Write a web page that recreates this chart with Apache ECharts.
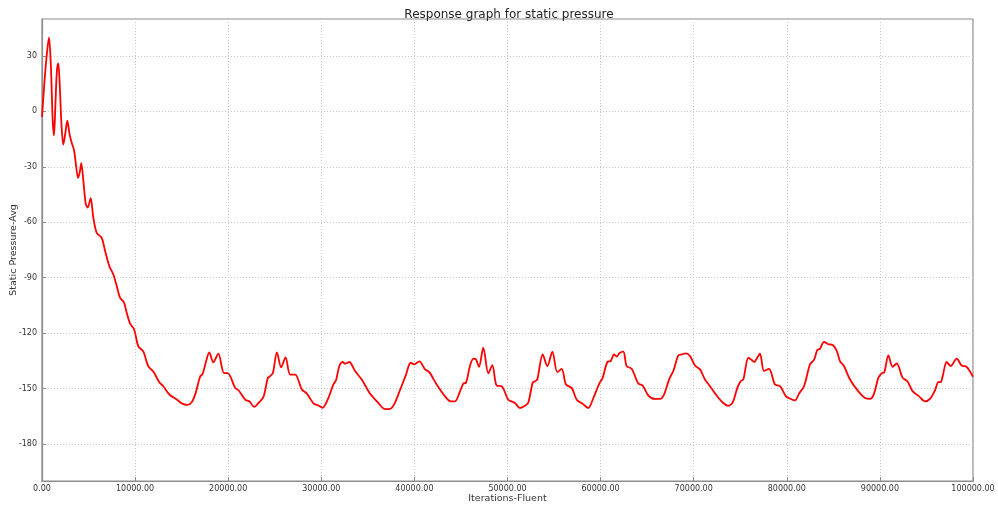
<!DOCTYPE html>
<html>
<head>
<meta charset="utf-8">
<title>Response graph for static pressure</title>
<script src="https://cdn.jsdelivr.net/npm/echarts@6/dist/echarts.min.js"></script>
<style>
  html, body { margin: 0; padding: 0; background: #fff; }
  #chart { width: 998px; height: 506px; }
</style>
</head>
<body>
<div id="chart"></div>
<script>
// Iteration counts of the solver run
const iterations = [
  0, 250, 500, 750, 950, 1150, 1290, 1450, 1600, 1750, 1900, 2100, 2290, 2500, 2720, 2950,
  3190, 3440, 3650, 3870, 4050, 4220, 4450, 4700, 4910, 5230, 5500, 5875, 6410, 6800, 7230,
  7660, 8000, 8380, 8810, 9100, 9450, 9900, 10350, 10880, 11420, 11960, 12600, 13030, 13680,
  14470, 15000, 15610, 16080, 16510, 16970, 17260, 17620, 17970, 18400, 18940, 19550, 19940,
  20750, 21110, 21820, 22290, 22790, 23260, 23790, 24260, 24510, 24800, 25230, 25690, 26160,
  26660, 27190, 27910, 28450, 29160, 29700, 30130, 30760, 31290, 31580, 31940, 32300, 32550,
  33010, 33620, 34340, 35230, 36130, 36840, 37310, 37810, 38450, 39100, 39600, 39990, 40530,
  41140, 41600, 42390, 43290, 43900, 44360, 44830, 45260, 45540, 45970, 46330, 46620, 46940,
  47400, 47940, 48370, 48840, 49370, 50090, 50800, 51340, 51880, 52240, 52700, 52950, 53200,
  53780, 54280, 54820, 55350, 55820, 56280, 56890, 57430, 58070, 58680, 59220, 59860, 60220,
  60720, 61080, 61440, 61730, 62010, 62440, 62800, 63340, 64050, 64520, 65130, 65840, 66380,
  66810, 67380, 67810, 68350, 68710, 69170, 69600, 70140, 70680, 71210, 71750, 72470, 73110,
  73720, 74190, 74690, 75040, 75330, 75870, 76230, 76510, 76760, 77120, 77550, 78090, 78730,
  79270, 79910, 80420, 80880, 81350, 81850, 82490, 82920, 83280, 83570, 84000, 84460, 84930,
  85360, 85710, 86140, 86790, 87680, 88400, 88940, 89370, 89830, 90190, 90480, 90910, 91370,
  91800, 92450, 92950, 93520, 94130, 94840, 95380, 95920, 96280, 96530, 96740, 97170, 97600,
  98250, 98780, 99320, 100000
];

// Area-averaged static pressure at each iteration
const pressure = [
  -3, 15, 30, 40, 25, -5, -13, 5, 22, 26, 15, -8, -18, -12, -5, -12,
  -17, -21, -29, -36, -33, -28, -38, -50, -52, -47, -57, -65.7, -68.4, -76, -83.7,
  -88.2, -94, -100.8, -103.5, -109, -114.7, -118, -127.2, -129.9, -138, -140.7, -146.6, -148.7, -153.2,
  -155.9, -158, -158.8, -157.4, -152.3, -143.7, -141.9, -135.3, -130.4, -135.8, -131.1, -141.6, -141.6,
  -149.6, -150.9, -155.9, -157, -159.9, -157.7, -154.5, -144.2, -143.3, -141.6, -130.4, -138.5, -133.1,
  -142.4, -142.4, -150.5, -152.7, -158, -159.2, -160.4, -155.1, -147.8, -145.5, -137.8, -135.6, -136.5,
  -135.6, -140.5, -145.1, -152.7, -157.8, -161.1, -161.1, -158.7, -150.9, -142.4, -136, -136.9, -135.3,
  -139.6, -141.1, -147.8, -154.2, -156.9, -156.9, -152.4, -147.3, -146.9, -137.8, -133.8, -134.2, -138.2,
  -127.8, -141.8, -137.3, -148.4, -148.7, -156, -157.8, -160.5, -159.3, -157.5, -146.9, -146, -145.1,
  -131.5, -137.8, -130, -141.1, -139.3, -147.8, -149.6, -156, -158.2, -160.5, -155.1, -147.3, -144.2,
  -135.6, -135.1, -131.5, -132.7, -130.9, -130, -137.8, -139.3, -147.3, -148.4, -153.8, -155.6, -155.6,
  -153.3, -144.7, -140.5, -132, -131.5, -130.9, -132.4, -137.5, -139.6, -145.1, -148.7, -153.8, -157.5,
  -159.3, -157.5, -149.6, -146, -145.1, -133.3, -134.5, -135.6, -133.8, -131.1, -140.5, -139.3, -147.8,
  -148.7, -154.2, -155.6, -156.4, -152.4, -148.7, -136.9, -134.5, -129.1, -128.4, -124.7, -126, -126.4,
  -129.6, -135.1, -137.8, -145.1, -151.5, -155.1, -155.6, -152.7, -144.2, -141.8, -141.1, -132, -138.2,
  -136.4, -144.2, -146, -151.5, -153.8, -156.9, -155.6, -150.9, -146.5, -146.5, -143.3, -135.6, -137.8,
  -133.8, -137.5, -138.2, -143.6
];

// Tick values shown on the pressure axis
const yTicks = [-180, -150, -120, -90, -60, -30, 0, 30];

const textColor = '#333';
const frameColor = '#8c8c8c';
const gridLine = { show: true, lineStyle: { color: '#c8c8c8', type: [1, 2], width: 1 } };

const chart = echarts.init(document.getElementById('chart'), null, { renderer: 'canvas' });

chart.setOption({
  animation: false,
  backgroundColor: '#fff',
  textStyle: { fontFamily: 'DejaVu Sans' },
  title: {
    text: 'Response graph for static pressure',
    left: 504,
    top: 4,
    textAlign: 'center',
    textStyle: { fontSize: 12, fontWeight: 'normal', color: '#222', fontFamily: 'DejaVu Sans' }
  },
  grid: {
    left: 42, right: 25, top: 19, bottom: 25,
    containLabel: false,
    outerBoundsMode: 'none',
    show: true, borderColor: frameColor, borderWidth: 1.2, backgroundColor: 'transparent'
  },
  xAxis: {
    type: 'value',
    min: 0, max: 100000, interval: 10000,
    name: 'Iterations-Fluent',
    nameLocation: 'middle',
    nameGap: 13,
    nameMoveOverlap: false,
    nameTextStyle: { fontSize: 9.5, color: textColor },
    axisLine: { show: true, onZero: false, lineStyle: { color: frameColor, width: 1.2 } },
    axisTick: { show: true, inside: true, length: 4, lineStyle: { color: frameColor } },
    axisLabel: {
      fontSize: 8, color: textColor, margin: 4,
      formatter: v => v.toFixed(2)
    },
    splitLine: gridLine
  },
  yAxis: {
    type: 'value',
    min: -200, max: 50,
    name: 'Static Pressure-Avg',
    nameLocation: 'middle',
    nameGap: 23,
    nameMoveOverlap: false,
    nameTextStyle: { fontSize: 9.5, color: textColor },
    axisLine: { show: true, onZero: false, lineStyle: { color: frameColor, width: 1.2 } },
    axisTick: { show: true, inside: true, length: 4, customValues: yTicks, lineStyle: { color: frameColor } },
    axisLabel: { fontSize: 8, color: textColor, margin: 5, customValues: yTicks },
    splitLine: gridLine
  },
  series: [{
    type: 'line',
    data: iterations.map((x, i) => [x, pressure[i]]),
    showSymbol: false,
    smooth: 0.3,
    lineStyle: { color: '#ff0000', width: 1.8 },
    itemStyle: { color: '#ff0000' }
  }]
});
</script>
</body>
</html>
